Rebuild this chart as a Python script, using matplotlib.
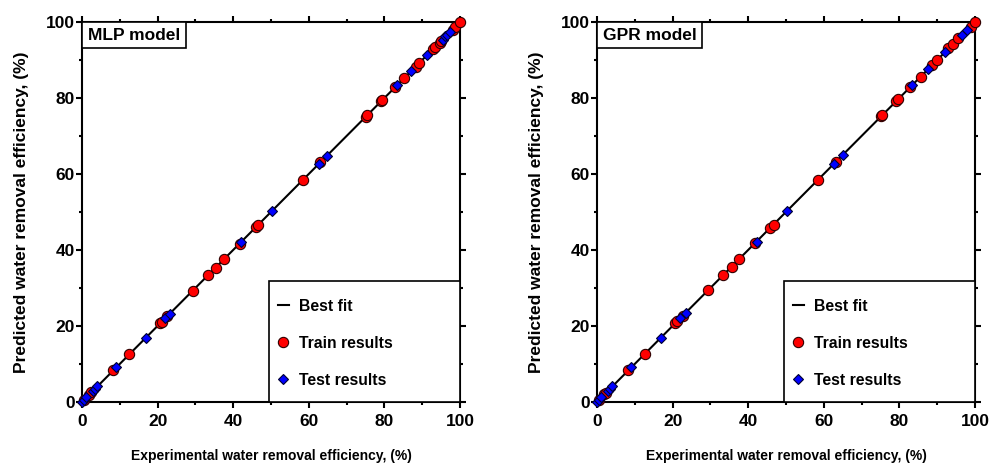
import matplotlib
matplotlib.use("Agg")
import matplotlib.pyplot as plt
from matplotlib.lines import Line2D
from matplotlib.patches import Rectangle
from matplotlib.ticker import MultipleLocator

plt.rcParams['font.family'] = ['Liberation Sans', 'DejaVu Sans']
plt.rcParams['font.weight'] = 'bold'

# experimental vs predicted water removal efficiency (%)
mlp_train_exp = [0.5, 1.9, 2.4, 8.3, 12.5, 20.6, 21.1, 22.4, 29.3, 33.4, 35.4, 37.7, 41.8,
                 46.0, 46.6, 58.5, 63.0, 75.2, 75.5, 79.0, 79.5, 82.9, 85.2, 88.3, 89.2,
                 92.9, 93.4, 94.6, 95.0, 98.1, 98.6, 100.0]
mlp_train_pred = [0.5, 1.8, 2.5, 8.4, 12.5, 20.7, 21.0, 22.5, 29.2, 33.5, 35.3, 37.6, 41.7,
                  46.1, 46.7, 58.4, 63.1, 75.1, 75.6, 79.1, 79.4, 83.0, 85.3, 88.2, 89.3,
                  92.8, 93.5, 94.5, 95.1, 98.0, 98.7, 99.9]
mlp_test_exp = [0.0, 0.6, 1.1, 2.8, 3.5, 4.1, 9.0, 16.9, 21.9, 23.3, 42.2, 50.2, 62.7,
                64.7, 83.3, 87.1, 91.3, 95.4, 96.1, 96.7, 97.3]
mlp_test_pred = [0.1, 0.5, 1.2, 2.9, 3.4, 4.2, 9.1, 16.8, 22.0, 23.2, 42.1, 50.3, 62.6,
                 64.8, 83.4, 87.0, 91.4, 95.3, 96.2, 96.6, 97.4]

gpr_train_exp = [0.5, 1.9, 2.4, 8.2, 12.7, 20.6, 21.1, 22.7, 29.5, 33.4, 35.6, 37.6, 41.8,
                 45.8, 46.8, 58.5, 63.2, 75.2, 75.5, 79.2, 79.7, 82.8, 85.6, 88.7, 89.9,
                 93.0, 94.2, 95.6, 98.9, 100.0]
gpr_train_pred = [0.4, 2.0, 2.4, 8.3, 12.6, 20.7, 21.2, 22.6, 29.4, 33.5, 35.5, 37.7, 41.9,
                  45.9, 46.7, 58.4, 63.1, 75.3, 75.4, 79.1, 79.8, 82.9, 85.5, 88.6, 90.0,
                  93.1, 94.1, 95.7, 98.8, 99.9]
gpr_test_exp = [0.0, 0.6, 1.1, 2.8, 3.5, 4.1, 9.0, 16.9, 22.0, 23.5, 42.3, 50.2, 62.8,
                65.0, 83.4, 87.7, 92.1, 96.6, 97.8]
gpr_test_pred = [0.1, 0.5, 1.2, 2.9, 3.4, 4.2, 9.1, 16.8, 22.1, 23.4, 42.2, 50.3, 62.7,
                 65.1, 83.5, 87.6, 92.2, 96.5, 97.9]

panels = [
    ("MLP model", mlp_train_exp, mlp_train_pred, mlp_test_exp, mlp_test_pred),
    ("GPR model", gpr_train_exp, gpr_train_pred, gpr_test_exp, gpr_test_pred),
]

train_style = dict(marker='o', ms=7.4, mfc='#ff0000', mec='#300000', mew=0.8)
test_style = dict(marker='D', ms=5.6, mfc='#0000ff', mec='#000030', mew=0.8)

fig = plt.figure(figsize=(9.9, 4.69), dpi=100)
lefts = [0.0828, 0.603]

for left, (name, tr_x, tr_y, te_x, te_y) in zip(lefts, panels):
    ax = fig.add_axes([left, 0.143, 0.3818, 0.810])
    ax.plot([0, 100], [0, 100], color='black', lw=1.5, zorder=2)
    ax.plot(tr_x, tr_y, ls='none', clip_on=False, zorder=3, **train_style)
    ax.plot(te_x, te_y, ls='none', clip_on=False, zorder=4, **test_style)

    ax.set_xlim(0, 100)
    ax.set_ylim(0, 100)
    ax.xaxis.set_major_locator(MultipleLocator(20))
    ax.yaxis.set_major_locator(MultipleLocator(20))
    ax.xaxis.set_minor_locator(MultipleLocator(10))
    ax.yaxis.set_minor_locator(MultipleLocator(10))
    ax.tick_params(which='both', direction='out', top=True, right=True, width=1.5,
                   labelsize=12.5)
    ax.tick_params(which='major', length=4)
    ax.tick_params(which='minor', length=2.5)
    ax.tick_params(axis='x', pad=5)
    ax.tick_params(axis='y', pad=1)
    for sp in ax.spines.values():
        sp.set_linewidth(1.5)

    ax.set_xlabel("Experimental water removal efficiency, (%)", fontsize=10,
                  fontweight='bold', labelpad=14)
    ax.set_ylabel("Predicted water removal efficiency, (%)", fontsize=12.5,
                  fontweight='bold', labelpad=12)

    # model name box in the top-left corner
    ax.annotate(name, xy=(0, 1), xycoords='axes fraction', xytext=(4.2, -4),
                textcoords='offset points', ha='left', va='top', fontsize=12.5,
                fontweight='bold', zorder=5,
                bbox=dict(boxstyle='square,pad=0.32', fc='white', ec='black', lw=1.2))

    # legend frame drawn separately so the entries sit close to its left edge
    ax.add_patch(Rectangle((0.495, 0.0), 0.505, 0.318, transform=ax.transAxes,
                           fc='white', ec='black', lw=1.2, zorder=5, clip_on=False))
    handles = [
        Line2D([], [], color='black', lw=1.5),
        Line2D([], [], ls='none', **train_style),
        Line2D([], [], ls='none', **test_style),
    ]
    leg = ax.legend(handles, ["Best fit", "Train results", "Test results"],
                    loc='upper left', bbox_to_anchor=(0.476, 0.313),
                    borderaxespad=0, frameon=False, fontsize=11.3,
                    handlelength=0.75, handletextpad=0.62, labelspacing=1.4,
                    borderpad=1.0)
    leg.set_zorder(6)
    for t in leg.get_texts():
        t.set_fontweight('bold')

fig.savefig("out.png", dpi=100)
